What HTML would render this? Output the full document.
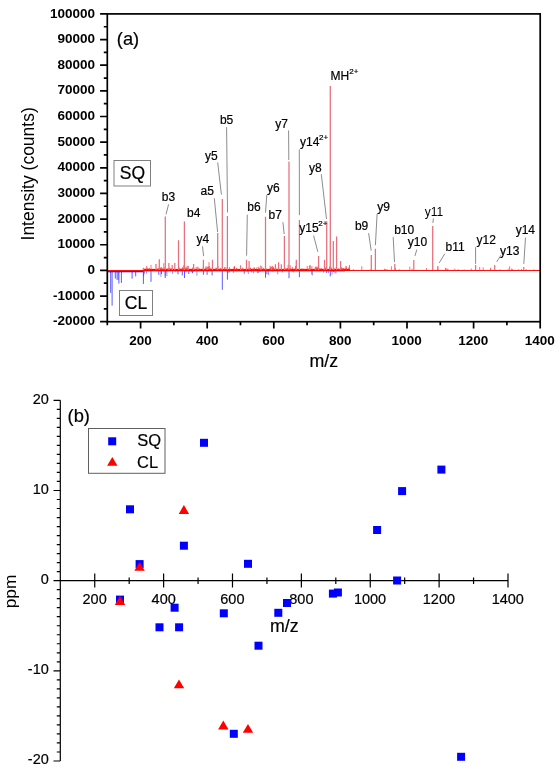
<!DOCTYPE html>
<html><head><meta charset="utf-8"><style>
html,body{margin:0;padding:0;background:#fff;width:560px;height:770px;overflow:hidden}
svg{display:block;will-change:transform}
text[font-weight="normal"]{stroke:#000;stroke-width:0.2px}
text{font-family:"Liberation Sans",sans-serif}
</style></head><body>
<svg width="560" height="770" viewBox="0 0 560 770">
<path d="M311.6 270.1V274.5M268.7 270.1V275.1M251.5 270.1V272.5M244.7 270.1V272.9M332.1 270.1V274.5M166.9 270.1V276.0M277.7 270.1V274.3M293.7 270.1V272.5M312.4 270.1V275.4M266.4 270.1V274.2M282.5 270.1V272.5M272.8 270.1V271.7M185.9 270.1V272.7M110.4 270.1V273.0M253.6 270.1V273.4M160.9 270.1V276.8M259.9 270.1V272.3M258.4 270.1V273.1M229.5 270.1V272.5M336.0 270.1V273.5M267.9 270.1V274.2M331.5 270.1V271.6M248.3 270.1V274.0M166.5 270.1V272.5M119.5 270.1V272.3M193.7 270.1V271.8M165.2 270.1V275.8M233.4 270.1V272.9M328.5 270.1V273.1M334.9 270.1V273.4M292.6 270.1V271.7M244.2 270.1V274.2M118.3 270.1V279.6M144.5 270.1V273.7M146.6 270.1V273.8M247.3 270.1V271.7M323.5 270.1V272.6M228.1 270.1V273.2M191.4 270.1V272.2M257.4 270.1V273.1M172.6 270.1V273.9M175.5 270.1V271.6M163.9 270.1V271.7M143.7 270.1V276.2M196.9 270.1V275.7" stroke="#6060ff" stroke-width="0.7" fill="none"/>
<path d="M110.7 270.1V292.9M112.1 270.1V305.7M115.3 270.1V278.6M117.1 270.1V280.0M118.9 270.1V283.6M121.4 270.1V282.9M132.1 270.1V278.6M135.7 270.1V276.4M143.4 270.1V283.9M151.0 270.1V281.8M158.8 270.1V274.8M161.4 270.1V274.0M165.2 270.1V278.0M178.0 270.1V274.3M182.3 270.1V275.4M184.5 270.1V278.0M188.8 270.1V274.0M192.5 270.1V273.2M203.4 270.1V274.8M207.1 270.1V274.8M212.1 270.1V275.4M222.3 270.1V289.8M227.4 270.1V279.7M265.5 270.1V277.7M289.0 270.1V278.2M299.4 270.1V277.2M326.7 270.1V273.0M330.3 270.1V276.4M333.6 270.1V272.2" stroke="#3030ff" stroke-width="0.8" fill="none"/>
<rect x="107.5" y="271" width="35.5" height="1.3" fill="#2828e8"/>
<rect x="143" y="270.7" width="202.0" height="1.0" fill="#4040ff" opacity="0.45"/>
<rect x="107.5" y="270" width="432.5" height="1.0" fill="#ff1010"/>
<rect x="143" y="268.9" width="207.0" height="2.0" fill="#ff0000"/>
<path d="M236.6 270.1V268.0M334.3 270.1V268.3M248.1 270.1V267.9M181.2 270.1V268.2M273.4 270.1V267.1M162.5 270.1V268.6M161.8 270.1V266.9M286.5 270.1V269.0M346.3 270.1V266.5M278.4 270.1V267.9M175.6 270.1V269.1M252.4 270.1V269.0M182.4 270.1V268.7M149.2 270.1V268.3M234.2 270.1V266.7M250.5 270.1V267.8M246.5 270.1V267.7M237.7 270.1V268.7M349.5 270.1V264.9M316.9 270.1V267.5M208.3 270.1V268.8M202.8 270.1V269.0M301.6 270.1V268.4M318.2 270.1V268.5M341.3 270.1V267.6M143.1 270.1V268.8M331.4 270.1V268.3M345.9 270.1V268.7M158.1 270.1V267.8M304.2 270.1V268.7M161.0 270.1V268.6M342.6 270.1V268.0M167.4 270.1V268.7M163.9 270.1V269.0M308.0 270.1V268.8M258.8 270.1V268.3M182.5 270.1V267.4M170.1 270.1V267.8M167.1 270.1V268.4M187.1 270.1V268.7M344.0 270.1V267.8M206.0 270.1V266.3M186.6 270.1V268.4M319.9 270.1V267.8M163.8 270.1V263.2M187.1 270.1V268.7M302.9 270.1V268.6M204.3 270.1V269.0M161.7 270.1V268.0M193.3 270.1V267.9M219.9 270.1V268.3M341.5 270.1V268.6M261.9 270.1V266.5M180.8 270.1V268.9M331.0 270.1V266.9M194.6 270.1V268.8M296.1 270.1V265.4M183.7 270.1V265.2M325.6 270.1V267.9M230.2 270.1V269.0M151.0 270.1V264.8M192.4 270.1V267.5M196.2 270.1V266.8M266.5 270.1V268.6M179.3 270.1V267.4M157.2 270.1V268.8M258.8 270.1V266.6M270.2 270.1V268.7M332.9 270.1V268.8M146.4 270.1V268.7M235.3 270.1V269.0M179.5 270.1V268.5M261.4 270.1V268.9M218.0 270.1V266.2M346.0 270.1V268.3M286.1 270.1V268.0M172.1 270.1V269.1M146.7 270.1V266.0M288.1 270.1V264.8M147.4 270.1V267.8M242.8 270.1V267.4M209.0 270.1V262.1M158.6 270.1V268.1M295.6 270.1V266.1M295.6 270.1V267.5M307.2 270.1V265.9M215.8 270.1V267.6M329.5 270.1V266.4M229.4 270.1V267.1M321.7 270.1V268.0M272.4 270.1V268.5M263.6 270.1V267.9M159.6 270.1V267.8M348.6 270.1V267.4M293.7 270.1V268.5M295.2 270.1V268.0M234.2 270.1V266.7M160.3 270.1V267.3M149.2 270.1V267.9M242.6 270.1V268.8M287.6 270.1V268.2M270.2 270.1V265.8M196.0 270.1V269.1M205.3 270.1V267.6M184.9 270.1V268.9M330.5 270.1V267.7M234.5 270.1V266.2M210.7 270.1V267.7M184.1 270.1V268.4M309.8 270.1V265.9M325.2 270.1V268.5M263.7 270.1V268.6M171.2 270.1V268.2M316.3 270.1V266.6M290.2 270.1V265.2M200.3 270.1V268.9M236.3 270.1V268.7M187.3 270.1V268.4M272.5 270.1V268.2M208.3 270.1V266.7M346.3 270.1V268.6M158.5 270.1V269.1M323.7 270.1V269.0M289.7 270.1V268.0M207.0 270.1V267.1M147.0 270.1V268.9M237.2 270.1V269.1M314.7 270.1V268.7M172.2 270.1V269.0M273.2 270.1V268.3M273.4 270.1V267.7M310.1 270.1V265.0M284.7 270.1V268.8M241.4 270.1V268.8M145.2 270.1V268.3M290.8 270.1V268.8M199.4 270.1V268.5M287.3 270.1V268.1M270.2 270.1V267.3M224.5 270.1V267.1M330.6 270.1V269.0M336.0 270.1V267.4M169.9 270.1V268.3M272.5 270.1V266.0M221.0 270.1V268.0M325.0 270.1V267.0M338.5 270.1V268.6M277.8 270.1V268.8M292.4 270.1V266.9M275.8 270.1V267.5M187.2 270.1V266.1M346.0 270.1V266.1M254.2 270.1V267.1M209.3 270.1V266.0M320.1 270.1V268.5M160.1 270.1V268.3M256.9 270.1V267.2M243.9 270.1V269.1M310.5 270.1V269.0M308.6 270.1V268.9M212.3 270.1V267.1M172.1 270.1V268.9M249.9 270.1V267.4M316.9 270.1V267.6M338.8 270.1V268.6M339.5 270.1V269.0M188.8 270.1V268.1M203.1 270.1V267.4M275.2 270.1V268.1M317.6 270.1V268.0M207.5 270.1V268.5M318.0 270.1V266.1M186.1 270.1V266.6M343.5 270.1V268.5M261.6 270.1V268.8M253.9 270.1V268.2M268.3 270.1V269.1M343.7 270.1V268.5M225.9 270.1V267.0M259.5 270.1V268.2M286.0 270.1V269.0M254.5 270.1V268.4M341.1 270.1V267.1M198.7 270.1V268.3M169.3 270.1V268.4M311.9 270.1V266.1M241.6 270.1V268.6M182.6 270.1V267.8M334.5 270.1V268.9M304.3 270.1V269.1M183.2 270.1V268.8M285.2 270.1V268.6M216.6 270.1V267.8M164.7 270.1V267.4M168.4 270.1V268.2M194.9 270.1V268.8M252.8 270.1V268.4M220.8 270.1V268.4M252.6 270.1V268.9M185.3 270.1V267.8M471.3 270.1V268.5M511.7 270.1V268.4M512.8 270.1V269.0M490.7 270.1V267.6M521.5 270.1V268.9M409.8 270.1V266.7M391.4 270.1V266.3M518.6 270.1V269.2M395.5 270.1V268.0M399.3 270.1V269.2M508.1 270.1V268.8M500.1 270.1V269.2M426.5 270.1V268.1M353.4 270.1V269.1M479.7 270.1V266.9M534.0 270.1V269.2M446.1 270.1V267.9M445.5 270.1V268.1M385.9 270.1V269.2M370.2 270.1V269.3M454.8 270.1V268.6M458.1 270.1V269.1M385.1 270.1V269.1M509.6 270.1V266.3M526.1 270.1V269.2M361.8 270.1V266.3M437.8 270.1V267.9M412.1 270.1V268.7M447.9 270.1V268.7M464.2 270.1V269.3M483.2 270.1V267.4M384.4 270.1V268.7M490.5 270.1V268.8M387.1 270.1V269.1M447.4 270.1V269.3" stroke="#ff3030" stroke-width="0.7" fill="none"/>
<path d="M165.3 270.1V216.5M178.5 270.1V240.3M184.4 270.1V221.4M203.4 270.1V259.8M159.3 270.1V259.3M156.0 270.1V264.1M143.5 270.1V267.7M168.9 270.1V263.0M174.8 270.1V263.0M172.2 270.1V265.0M188.2 270.1V265.7M193.6 270.1V264.1M197.9 270.1V266.8M212.5 270.1V259.8M207.3 270.1V266.8M217.7 270.1V233.0M222.3 270.1V198.9M227.4 270.1V216.1M240.5 270.1V265.2M246.5 270.1V259.8M249.1 270.1V260.9M260.9 270.1V265.4M265.5 270.1V216.8M271.6 270.1V266.4M275.4 270.1V264.3M278.6 270.1V262.2M281.3 270.1V264.3M284.4 270.1V236.0M289.0 270.1V161.6M296.3 270.1V259.8M299.4 270.1V220.1M309.5 270.1V265.7M315.4 270.1V266.8M318.6 270.1V256.1M324.5 270.1V259.8M326.7 270.1V221.2M330.3 270.1V85.9M333.3 270.1V241.0M336.6 270.1V236.6M340.6 270.1V260.9M371.3 270.1V255.0M375.4 270.1V248.8M394.8 270.1V263.9M413.8 270.1V260.0M432.7 270.1V225.9M437.8 270.1V266.0M475.6 270.1V265.0M494.7 270.1V265.0M523.8 270.1V267.0" stroke="#e8707c" stroke-width="1.25" fill="none"/>
<path d="M168.6 204.3L166 214.3M202.5 246.4L203.6 256.1M214.3 198.2L217.6 232M217.7 162.5L221.4 194.6M226.6 127.1L227.5 212.5M288.6 130.4L288.8 160M299.3 149.3L299.4 215.2M266.8 194.8L265.5 212.5M247.3 214.7L246.6 255.7M282.9 222.2L284.2 234M321.3 174.3L326.5 219M313.6 235.5L317.8 251.8M368.6 233.2L371.2 250.5M377.1 213.9L375.4 245.2M393.2 237.1L394.5 262.1M416.8 249.6L415 255.9M433.4 218.5L432.9 222.9M444.8 253.7L439.2 262.9M475.6 247.1L475.6 263.9M500.8 255.3L496.7 261.9M525.5 237.6L523.8 263.9" stroke="#8c8c8c" stroke-width="1.0" fill="none"/>
<rect x="107.3" y="13.9" width="432.9" height="307.8" stroke="#000" stroke-width="1.7" fill="none"/>
<path d="M100.1 13.90H107.3M103.8 26.73H107.3M100.1 39.55H107.3M103.8 52.38H107.3M100.1 65.20H107.3M103.8 78.03H107.3M100.1 90.85H107.3M103.8 103.68H107.3M100.1 116.50H107.3M103.8 129.33H107.3M100.1 142.15H107.3M103.8 154.97H107.3M100.1 167.80H107.3M103.8 180.62H107.3M100.1 193.45H107.3M103.8 206.27H107.3M100.1 219.10H107.3M103.8 231.93H107.3M100.1 244.75H107.3M103.8 257.58H107.3M100.1 270.40H107.3M103.8 283.22H107.3M100.1 296.05H107.3M103.8 308.88H107.3M100.1 321.70H107.3M107.30 321.7V325.2M140.60 321.7V328.6M173.90 321.7V325.2M207.20 321.7V328.6M240.50 321.7V325.2M273.80 321.7V328.6M307.10 321.7V325.2M340.40 321.7V328.6M373.70 321.7V325.2M407.00 321.7V328.6M440.30 321.7V325.2M473.60 321.7V328.6M506.90 321.7V325.2M540.20 321.7V328.6" stroke="#000" stroke-width="1.7" fill="none"/>
<g font-family="Liberation Sans">
<text transform="translate(49.90,17.53) scale(1.0,1)" font-size="13.5" font-weight="bold">100000</text>
<text transform="translate(57.40,43.18) scale(1.0,1)" font-size="13.5" font-weight="bold">90000</text>
<text transform="translate(57.40,68.83) scale(1.0,1)" font-size="13.5" font-weight="bold">80000</text>
<text transform="translate(57.40,94.48) scale(1.0,1)" font-size="13.5" font-weight="bold">70000</text>
<text transform="translate(57.40,120.13) scale(1.0,1)" font-size="13.5" font-weight="bold">60000</text>
<text transform="translate(57.40,145.78) scale(1.0,1)" font-size="13.5" font-weight="bold">50000</text>
<text transform="translate(57.40,171.43) scale(1.0,1)" font-size="13.5" font-weight="bold">40000</text>
<text transform="translate(57.40,197.08) scale(1.0,1)" font-size="13.5" font-weight="bold">30000</text>
<text transform="translate(57.40,222.73) scale(1.0,1)" font-size="13.5" font-weight="bold">20000</text>
<text transform="translate(57.40,248.38) scale(1.0,1)" font-size="13.5" font-weight="bold">10000</text>
<text transform="translate(87.40,274.03) scale(1.0,1)" font-size="13.5" font-weight="bold">0</text>
<text transform="translate(52.90,299.68) scale(1.0,1)" font-size="13.5" font-weight="bold">-10000</text>
<text transform="translate(52.90,325.33) scale(1.0,1)" font-size="13.5" font-weight="bold">-20000</text>
<text transform="translate(129.15,344.83) scale(1.0,1)" font-size="13.5" font-weight="bold" fill="#000" >200</text>
<text transform="translate(195.88,344.83) scale(1.0,1)" font-size="13.5" font-weight="bold" fill="#000" >400</text>
<text transform="translate(262.35,344.83) scale(1.0,1)" font-size="13.5" font-weight="bold" fill="#000" >600</text>
<text transform="translate(329.01,344.83) scale(1.0,1)" font-size="13.5" font-weight="bold" fill="#000" >800</text>
<text transform="translate(391.61,344.83) scale(1.0,1)" font-size="13.5" font-weight="bold" fill="#000" >1000</text>
<text transform="translate(458.21,344.83) scale(1.0,1)" font-size="13.5" font-weight="bold" fill="#000" >1200</text>
<text transform="translate(524.81,344.83) scale(1.0,1)" font-size="13.5" font-weight="bold" fill="#000" >1400</text>
<text transform="translate(309.50,366.98) scale(1.0,1)" font-size="17.8" font-weight="normal" fill="#000" >m/z</text>
<text transform="translate(29.2,173.6) rotate(-90) translate(-66.87,4.50)" font-size="17.5">Intensity (counts)</text>
<text transform="translate(116.81,44.65) scale(1.0,1)" font-size="18.3" font-weight="normal" fill="#000" >(a)</text>
<rect x="114" y="160.5" width="36.5" height="25.5" fill="#fff" stroke="#808080" stroke-width="1"/>
<text transform="translate(119.81,179.30) scale(1.0,1)" font-size="17.5" font-weight="normal" fill="#000" >SQ</text>
<rect x="119.5" y="290.5" width="33" height="25" fill="#fff" stroke="#808080" stroke-width="1"/>
<text transform="translate(124.78,308.76) scale(1.0,1)" font-size="17.5" font-weight="normal" fill="#000" >CL</text>
<text transform="translate(161.74,201.10) scale(1.0,1)" font-size="12" font-weight="normal" fill="#000" >b3</text>
<text transform="translate(187.07,217.10) scale(1.0,1)" font-size="12" font-weight="normal" fill="#000" >b4</text>
<text transform="translate(196.60,243.38) scale(1.0,1)" font-size="12" font-weight="normal" fill="#000" >y4</text>
<text transform="translate(200.51,194.87) scale(1.0,1)" font-size="12" font-weight="normal" fill="#000" >a5</text>
<text transform="translate(205.03,159.97) scale(1.0,1)" font-size="12" font-weight="normal" fill="#000" >y5</text>
<text transform="translate(219.88,124.15) scale(1.0,1)" font-size="12" font-weight="normal" fill="#000" >b5</text>
<text transform="translate(275.23,127.62) scale(1.0,1)" font-size="12" font-weight="normal" fill="#000" >y7</text>
<text transform="translate(267.03,192.24) scale(1.0,1)" font-size="12" font-weight="normal" fill="#000" >y6</text>
<text transform="translate(247.24,211.00) scale(1.0,1)" font-size="12" font-weight="normal" fill="#000" >b6</text>
<text transform="translate(268.50,218.90) scale(1.0,1)" font-size="12" font-weight="normal" fill="#000" >b7</text>
<text transform="translate(299.99,146.43) scale(1.0,1)" font-size="12" font-weight="normal" fill="#000" >y14</text>
<text transform="translate(299.30,231.68) scale(1.0,1)" font-size="12" font-weight="normal" fill="#000" >y15</text>
<text transform="translate(308.93,171.89) scale(1.0,1)" font-size="12" font-weight="normal" fill="#000" >y8</text>
<text transform="translate(330.59,80.17) scale(1.0,1)" font-size="12" font-weight="normal" fill="#000" >MH</text>
<text transform="translate(354.95,229.95) scale(1.0,1)" font-size="12" font-weight="normal" fill="#000" >b9</text>
<text transform="translate(377.23,210.74) scale(1.0,1)" font-size="12" font-weight="normal" fill="#000" >y9</text>
<text transform="translate(394.18,233.65) scale(1.0,1)" font-size="12" font-weight="normal" fill="#000" >b10</text>
<text transform="translate(407.75,246.14) scale(1.0,1)" font-size="12" font-weight="normal" fill="#000" >y10</text>
<text x="424.75" y="216.35" font-size="12">y11</text>
<text transform="translate(445.52,250.50) scale(1.0,1)" font-size="12" font-weight="normal" fill="#000" >b11</text>
<text transform="translate(476.51,243.79) scale(1.0,1)" font-size="12" font-weight="normal" fill="#000" >y12</text>
<text transform="translate(500.05,255.09) scale(1.0,1)" font-size="12" font-weight="normal" fill="#000" >y13</text>
<text transform="translate(515.69,233.93) scale(1.0,1)" font-size="12" font-weight="normal" fill="#000" >y14</text>
<text transform="translate(349.24,73.96) scale(1.0,1)" font-size="8" font-weight="normal" fill="#000" >2+</text>
<text transform="translate(319.04,139.66) scale(1.0,1)" font-size="8" font-weight="normal" fill="#000" >2+</text>
<text transform="translate(318.19,225.96) scale(1.0,1)" font-size="8" font-weight="normal" fill="#000" >2+</text>
<path d="M60.3 400.3V761.0M60.3 580.65H508.0M53.5 400.30H60.3M56.8 409.32H60.3M56.8 418.34H60.3M56.8 427.35H60.3M56.8 436.37H60.3M56.8 445.39H60.3M56.8 454.41H60.3M56.8 463.42H60.3M56.8 472.44H60.3M56.8 481.46H60.3M53.5 490.48H60.3M56.8 499.49H60.3M56.8 508.51H60.3M56.8 517.53H60.3M56.8 526.55H60.3M56.8 535.56H60.3M56.8 544.58H60.3M56.8 553.60H60.3M56.8 562.62H60.3M56.8 571.63H60.3M53.5 580.65H60.3M56.8 589.67H60.3M56.8 598.68H60.3M56.8 607.70H60.3M56.8 616.72H60.3M56.8 625.74H60.3M56.8 634.75H60.3M56.8 643.77H60.3M56.8 652.79H60.3M56.8 661.81H60.3M53.5 670.83H60.3M56.8 679.84H60.3M56.8 688.86H60.3M56.8 697.88H60.3M56.8 706.89H60.3M56.8 715.91H60.3M56.8 724.93H60.3M56.8 733.95H60.3M56.8 742.97H60.3M56.8 751.98H60.3M53.5 761.00H60.3M94.74 573.6V587.6M129.18 577.4V583.9M163.62 573.6V587.6M198.05 577.4V583.9M232.49 573.6V587.6M266.93 577.4V583.9M301.37 573.6V587.6M335.81 577.4V583.9M370.25 573.6V587.6M404.68 577.4V583.9M439.12 573.6V587.6M473.56 577.4V583.9M508.00 573.6V587.6" stroke="#000" stroke-width="1.2" fill="none"/>
<text transform="translate(32.70,403.70) scale(1.0,1)" font-size="14.5" font-weight="normal">20</text>
<text transform="translate(32.70,493.88) scale(1.0,1)" font-size="14.5" font-weight="normal">10</text>
<text transform="translate(40.70,584.05) scale(1.0,1)" font-size="14.5" font-weight="normal">0</text>
<text transform="translate(27.82,674.23) scale(1.0,1)" font-size="14.5" font-weight="normal">-10</text>
<text transform="translate(27.82,764.40) scale(1.0,1)" font-size="14.5" font-weight="normal">-20</text>
<text transform="translate(82.55,604.00) scale(1.0,1)" font-size="14.5" font-weight="normal" fill="#000" >200</text>
<text transform="translate(151.62,604.00) scale(1.0,1)" font-size="14.5" font-weight="normal" fill="#000" >400</text>
<text transform="translate(220.31,604.00) scale(1.0,1)" font-size="14.5" font-weight="normal" fill="#000" >600</text>
<text transform="translate(289.25,604.00) scale(1.0,1)" font-size="14.5" font-weight="normal" fill="#000" >800</text>
<text transform="translate(353.88,604.00) scale(1.0,1)" font-size="14.5" font-weight="normal" fill="#000" >1000</text>
<text transform="translate(422.75,604.00) scale(1.0,1)" font-size="14.5" font-weight="normal" fill="#000" >1200</text>
<text transform="translate(491.63,604.00) scale(1.0,1)" font-size="14.5" font-weight="normal" fill="#000" >1400</text>
<text transform="translate(269.90,632.38) scale(1.0,1)" font-size="17.8" font-weight="normal" fill="#000" >m/z</text>
<text transform="translate(13.0,591.5) rotate(-90) translate(-16.81,2.81)" font-size="17.3">ppm</text>
<text transform="translate(67.56,421.90) scale(1.0,1)" font-size="18.3" font-weight="normal" fill="#000" >(b)</text>
</g>
<rect x="88.5" y="428.5" width="76.5" height="44.8" fill="none" stroke="#606060" stroke-width="1"/>
<rect x="108.2" y="437.3" width="8" height="8" fill="#0000ff"/>
<path d="M112.3 457 L117.5 465.7 L107.1 465.7Z" fill="#ff0000"/>
<g font-family="Liberation Sans">
<text transform="translate(137.28,446.19) scale(1.0,1)" font-size="16.5" font-weight="normal" fill="#000" >SQ</text>
<text transform="translate(137.06,467.74) scale(1.0,1)" font-size="16.5" font-weight="normal" fill="#000" >CL</text>
</g>
<rect x="126.0" y="505.3" width="8" height="8" fill="#0000ff"/>
<rect x="179.9" y="541.7" width="8" height="8" fill="#0000ff"/>
<rect x="135.6" y="560.1" width="8" height="8" fill="#0000ff"/>
<rect x="116.0" y="595.6" width="8" height="8" fill="#0000ff"/>
<rect x="170.6" y="603.7" width="8" height="8" fill="#0000ff"/>
<rect x="155.5" y="623.3" width="8" height="8" fill="#0000ff"/>
<rect x="175.1" y="623.3" width="8" height="8" fill="#0000ff"/>
<rect x="200.0" y="438.8" width="8" height="8" fill="#0000ff"/>
<rect x="244.0" y="559.8" width="8" height="8" fill="#0000ff"/>
<rect x="219.8" y="609.3" width="8" height="8" fill="#0000ff"/>
<rect x="274.3" y="608.8" width="8" height="8" fill="#0000ff"/>
<rect x="283.0" y="599.0" width="8" height="8" fill="#0000ff"/>
<rect x="254.5" y="641.7" width="8" height="8" fill="#0000ff"/>
<rect x="229.8" y="729.8" width="8" height="8" fill="#0000ff"/>
<rect x="328.9" y="589.6" width="8" height="8" fill="#0000ff"/>
<rect x="333.9" y="588.5" width="8" height="8" fill="#0000ff"/>
<rect x="393.1" y="576.5" width="8" height="8" fill="#0000ff"/>
<rect x="373.1" y="526.0" width="8" height="8" fill="#0000ff"/>
<rect x="398.1" y="487.1" width="8" height="8" fill="#0000ff"/>
<rect x="437.4" y="465.6" width="8" height="8" fill="#0000ff"/>
<rect x="457.1" y="752.8" width="8" height="8" fill="#0000ff"/>
<path d="M183.9 505.1L189.1 513.9L178.7 513.9Z" fill="#ff0000"/>
<path d="M139.6 562.0L144.8 570.8L134.4 570.8Z" fill="#ff0000"/>
<path d="M120.0 596.1L125.2 604.9L114.8 604.9Z" fill="#ff0000"/>
<path d="M179.0 679.4L184.2 688.2L173.8 688.2Z" fill="#ff0000"/>
<path d="M223.3 720.6L228.5 729.4L218.1 729.4Z" fill="#ff0000"/>
<path d="M248.0 723.9L253.2 732.7L242.8 732.7Z" fill="#ff0000"/>
</svg></body></html>
